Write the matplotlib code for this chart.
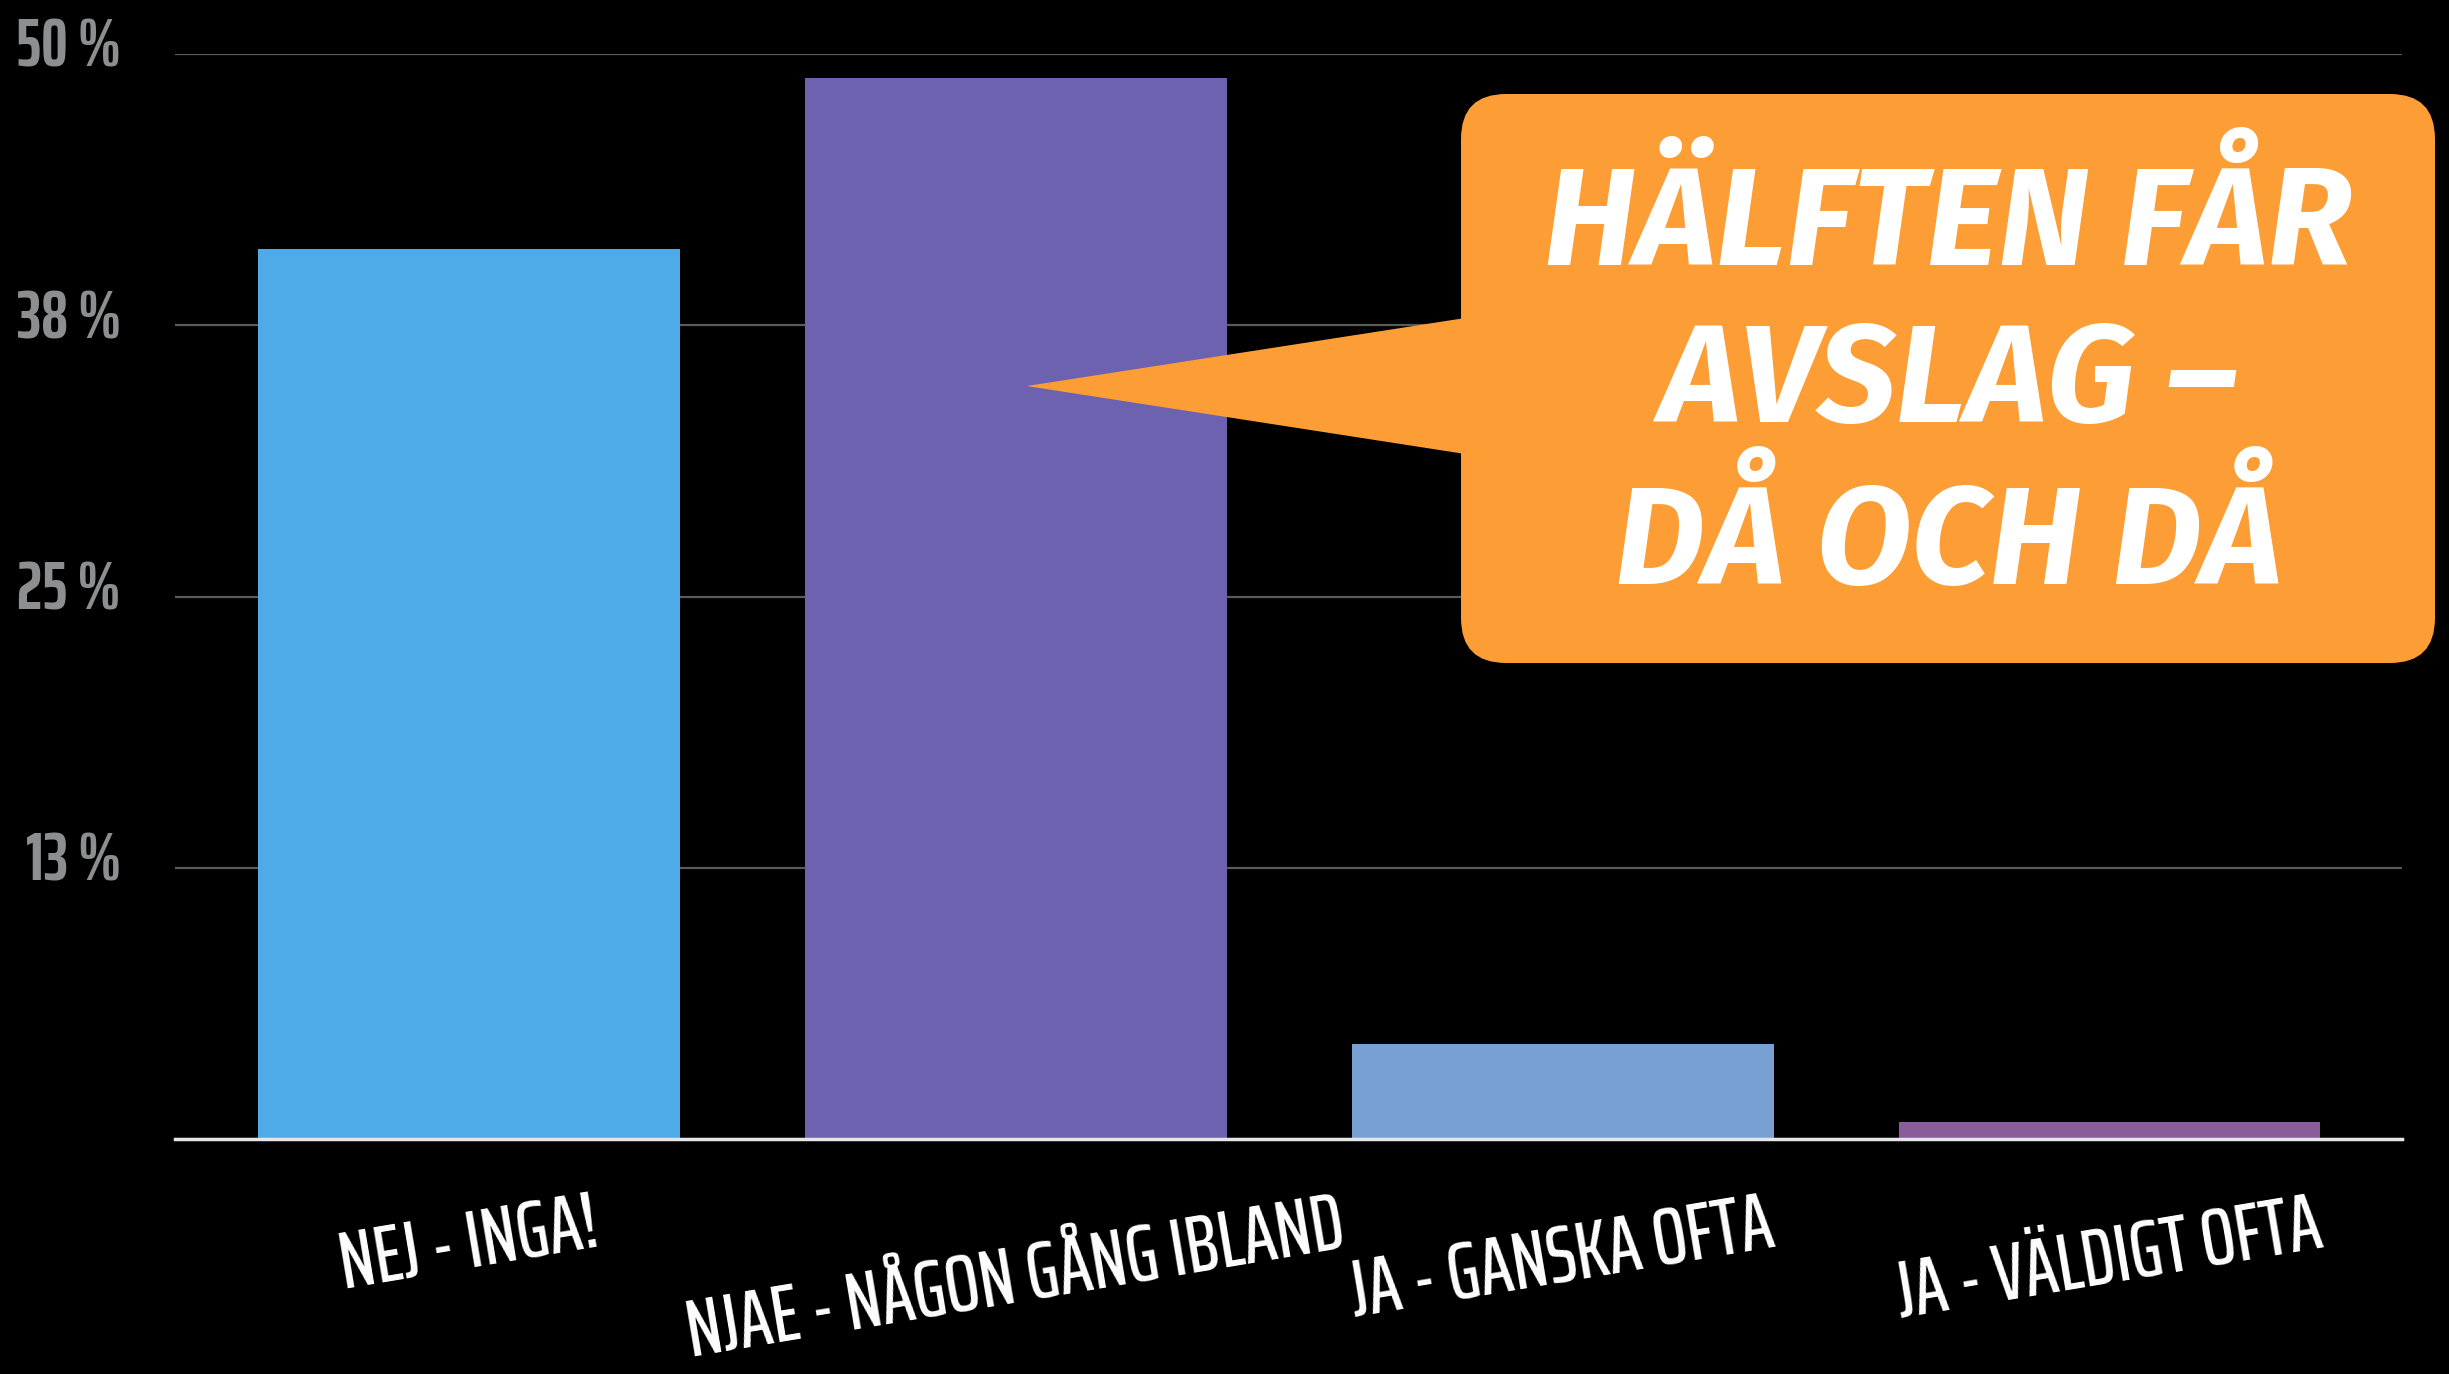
import matplotlib
matplotlib.use('Agg')
import matplotlib.pyplot as plt
from matplotlib.patches import FancyBboxPatch, Polygon
from matplotlib.transforms import ScaledTranslation

categories = ['NEJ - INGA!', 'NJAE - NÅGON GÅNG IBLAND', 'JA - GANSKA OFTA', 'JA - VÄLDIGT OFTA']
values = [41.0, 48.9, 4.4, 0.8]
bar_colors = ['#4FAAE8', '#6C62B0', '#78A0D2', '#8B5C9B']
y_ticks = [0, 12.5, 25, 37.5, 50]
y_tick_labels = ['', '13 %', '25 %', '38 %', '50 %']
callout_text = 'HÄLFTEN FÅR\nAVSLAG –\nDÅ OCH DÅ'

tick_font = ['Saira ExtraCondensed', 'DejaVu Sans']
label_font = ['Saira ExtraCondensed', 'DejaVu Sans']
callout_font = ['Fira Sans', 'DejaVu Sans']

fig = plt.figure(figsize=(24.49, 13.74), dpi=100, facecolor='black')
ax = fig.add_axes([0.0715, 0.171, 0.9094, 0.7897])
ax.set_facecolor('black')

x = range(len(categories))
ax.bar(x, values, width=0.771, color=bar_colors, zorder=3)

ax.set_xlim(-0.537, 3.535)
ax.set_ylim(0, 50)
ax.set_yticks(y_ticks)
ax.set_yticklabels(y_tick_labels)
ax.grid(axis='y', color='#5a5a5a', linewidth=1.6, zorder=0)
ax.tick_params(axis='y', length=0, pad=39, labelsize=48, labelcolor='#8C8E90')
for lab in ax.get_yticklabels():
    lab.set_fontfamily(tick_font)
    lab.set_fontweight('bold')
    lab.set_transform(lab.get_transform() + ScaledTranslation(0, 0.12, fig.dpi_scale_trans))

ax.set_xticks(list(x))
ax.set_xticklabels(categories)
ax.tick_params(axis='x', length=0, pad=35, labelsize=58, labelcolor='white')
for lab in ax.get_xticklabels():
    lab.set_fontfamily(label_font)
    lab.set_fontweight('medium')
    lab.set_rotation(9.5)
    lab.set_ha('center')
    lab.set_va('top')

for s in ['top', 'right', 'left']:
    ax.spines[s].set_visible(False)
ax.spines['bottom'].set_color('#e6e6e6')
ax.spines['bottom'].set_linewidth(2.5)
ax.spines['bottom'].set_zorder(4)

# callout box (inches in figure space)
orange = '#FD9D35'
bx0, by0, bx1, by1 = 14.61, 7.11, 24.35, 12.80
box = FancyBboxPatch((bx0, by0), bx1 - bx0, by1 - by0,
                     boxstyle='round,pad=0,rounding_size=0.45',
                     transform=fig.dpi_scale_trans, facecolor=orange, edgecolor='none', zorder=5)
fig.patches.append(box)

# pointer tip sits on the second bar
tip_disp = ax.transData.transform((1.02, 34.7))
tip_in = fig.dpi_scale_trans.inverted().transform(tip_disp)
tri = Polygon([tip_in, (bx0 + 0.3, 10.60), (bx0 + 0.3, 9.16)], closed=True,
              transform=fig.dpi_scale_trans, facecolor=orange, edgecolor='none', zorder=5)
fig.patches.append(tri)

fig.text((bx0 + bx1) / 2 / 24.49, 9.88 / 13.74, callout_text, ha='center', va='center',
         fontsize=100, color='white', fontweight='bold', fontstyle='italic',
         family=callout_font, linespacing=1.2, zorder=6)

fig.savefig('out.png', facecolor='black')
